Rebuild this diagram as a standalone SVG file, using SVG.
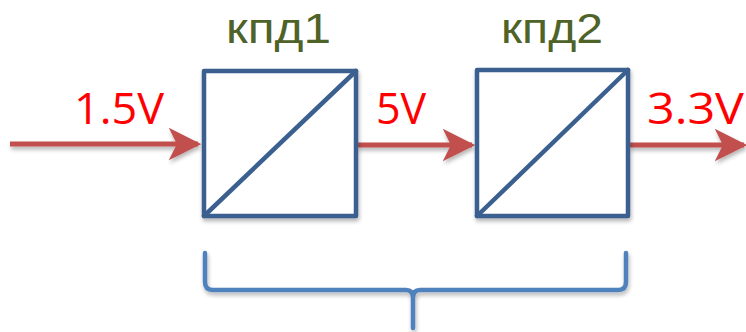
<svg xmlns="http://www.w3.org/2000/svg" width="746" height="332" viewBox="0 0 746 332">
<style>
.box{fill:#fff;stroke:#3B6190;stroke-width:4.5;stroke-linejoin:round}
.diag{stroke:#3B6190;stroke-width:4.5;stroke-linecap:round}
.wire{stroke:#C0504D;stroke-width:5;fill:none}
.v{font-family:"Open Sans","Liberation Sans",Arial,sans-serif;font-size:43px;fill:#FF0000}
.t{font-family:"Liberation Sans",Arial,sans-serif;font-size:43px;fill:#4F6228}
.brace{fill:none;stroke:#4F81BD;stroke-width:4.5;stroke-linecap:round;stroke-linejoin:round}
</style>
<defs>
<filter id="sh" filterUnits="userSpaceOnUse" x="0" y="0" width="746" height="332">
<feGaussianBlur in="SourceAlpha" stdDeviation="2"/>
<feOffset dx="1" dy="3" result="b"/>
<feComponentTransfer><feFuncA type="linear" slope="0.3"/></feComponentTransfer>
<feMerge><feMergeNode/><feMergeNode in="SourceGraphic"/></feMerge>
</filter>
<marker id="ah" viewBox="0 0 10 10" refX="9" refY="5" markerWidth="6.5" markerHeight="6.5" markerUnits="strokeWidth" orient="auto">
<path d="M0,0 L10,5 L0,10 L2.5,5 Z" fill="#C0504D"/>
</marker>
</defs>
<g id="connectors" filter="url(#sh)">
<line class="wire" x1="10" y1="144" x2="198" y2="144" marker-end="url(#ah)"/>
<line class="wire" x1="357" y1="145" x2="472" y2="145" marker-end="url(#ah)"/>
<line class="wire" x1="629" y1="145" x2="744" y2="145" marker-end="url(#ah)"/>
</g>
<g id="box1" filter="url(#sh)">
<rect class="box" x="204" y="71" width="152" height="145"/>
<line class="diag" x1="204" y1="216" x2="356" y2="71"/>
</g>
<g id="box2" filter="url(#sh)">
<rect class="box" x="477" y="70" width="151" height="146"/>
<line class="diag" x1="477" y1="216" x2="628" y2="70"/>
</g>
<g id="labels">
<text class="t" x="226" y="43" textLength="105" lengthAdjust="spacingAndGlyphs">кпд1</text>
<text class="t" x="501" y="43" textLength="102" lengthAdjust="spacingAndGlyphs">кпд2</text>
<text class="v" x="74" y="124" textLength="90" lengthAdjust="spacingAndGlyphs">1.5V</text>
<text class="v" x="376" y="124">5V</text>
<text class="v" x="647" y="124" textLength="97" lengthAdjust="spacingAndGlyphs">3.3V</text>
</g>
<g id="brace" filter="url(#sh)">
<path class="brace" d="M205,253 L205,282 Q205,290 213,290 L406,290 Q413,290 413,298 L413,328 M413,298 Q413,290 420,290 L618,290 Q626,290 626,282 L626,253"/>
</g>
</svg>
